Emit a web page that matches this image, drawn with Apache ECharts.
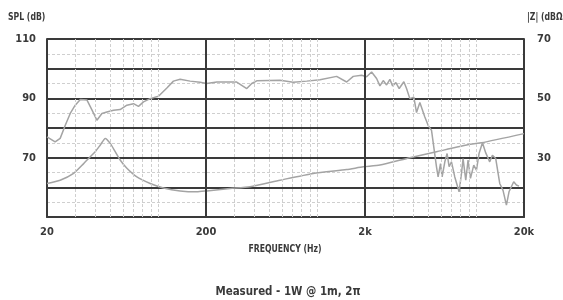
<!DOCTYPE html>
<html>
<head>
<meta charset="utf-8">
<script src="https://cdn.jsdelivr.net/npm/echarts@6/dist/echarts.min.js"></script>
<style>
html,body{margin:0;padding:0;background:#fff;}
#chart{width:563px;height:300px;}
</style>
</head>
<body>
<div id="chart"></div>
<script>
// ---- data ----
const splFreq = [20,22.5,24.2,26.1,28,30.1,32.4,35.7,38.4,41.2,44.3,47.6,52.4,57.7,63.6,70,75.2,80.9,89.1,100.5,113.5,124.8,137.5,158.9,183.6,202,234,312,361,388,417,584,708,860,1042,1326,1533,1687,1904,2047,2200,2366,2482,2604,2734,2868,2982,3128,3281,3511,3650,3829,4057,4218,4426,4758,4989,5241,5632,5765,5969,6110,6355,6568,6761,6998,7340,7812,8088,8276,8606,8896,9211,9661,10046,10430,10960,11494,12176,12662,13282,14074,14762,15504,16098,17232,17920,18606];
const splValues = [77,75.3,76.5,81,84.9,87.7,89.6,89.4,86,82.6,84.9,85.4,86,86.2,87.7,88.2,87.3,88.8,89.9,90.7,93.5,95.8,96.4,95.8,95.4,95,95.5,95.5,93.3,95,95.9,96.1,95.4,95.8,96.3,97.4,95.5,97.4,97.8,97.3,98.9,96.7,94.2,96,94.5,96.4,94.2,95.3,93.3,95.6,93.3,89.9,90.4,85.2,88.6,83.7,80.9,79.2,66.9,63.5,68,63.5,68.6,71.4,67,68.6,63.5,58.5,64.7,69.7,62.4,69.2,63,67.5,65.8,71.4,75,71.6,68.6,70.8,69.7,61.3,59,54,58.5,61.9,60.8,60.4];
const impFreq = [20,24.2,29.4,34,37.4,40.2,43.2,46.5,50,53.7,57.7,63.6,73.5,89.1,108,137.5,175,202,283,378,584,946,1533,1949,2482,3829,5632,9211,10800,20000];
const impValues = [21.3,22.4,24.7,28,30.3,32,34.2,36.5,34.8,32,29.2,26.4,23.5,21.3,19.8,18.8,18.5,18.8,19.6,20.2,22.4,24.7,26,26.9,27.5,30,32,34.5,35,38.1];
const xTickValues = [20,200,2000,20000];
const xTickLabels = ['20','200','2k','20k'];
const splTickLabels = [110,90,70];
const impTickLabels = [70,50,30];
const majorFreqLines = [200,2000];
const minorFreqLines = [30,40,50,60,70,80,90,100,300,400,500,600,700,800,900,1000,3000,4000,5000,6000,7000,8000,9000,10000];
const xTitle = 'FREQUENCY (Hz)';
const leftTitle = 'SPL (dB)';
const rightTitle = '|Z| (dBΩ)';
const footNote = 'Measured - 1W @ 1m, 2π';

// ---- chart ----
const FONT = "'DejaVu Sans Condensed','Liberation Sans Narrow',sans-serif";
const TXT = '#3a3a3a';
const chart = echarts.init(document.getElementById('chart'));
const toPairs = (xs, ys) => xs.map((x, i) => [x, ys[i]]);
const labelMap = {};
xTickValues.forEach((v, i) => labelMap[v] = xTickLabels[i]);

chart.setOption({
  animation: false,
  backgroundColor: '#fff',
  grid: {left: 47, right: 39, top: 39, bottom: 83, containLabel: false},
  xAxis: {
    type: 'log', logBase: 10, min: 20, max: 20000,
    axisLine: {show: true, onZero: false, lineStyle: {color: '#3a3a3a', width: 2}},
    axisTick: {show: false},
    splitLine: {show: false},
    axisLabel: {
      customValues: xTickValues,
      formatter: v => labelMap[Math.round(v)] || '',
      fontFamily: FONT, fontWeight: 'bold', fontSize: 11, color: TXT, margin: 10
    }
  },
  yAxis: [
    {
      type: 'value', min: 50, max: 110, interval: 10, position: 'left',
      axisLine: {show: true, lineStyle: {color: '#3a3a3a', width: 2}},
      axisTick: {show: false},
      axisLabel: {
        formatter: v => splTickLabels.includes(v) ? String(v) : '',
        fontFamily: FONT, fontWeight: 'bold', fontSize: 11, color: TXT, margin: 11
      },
      splitLine: {show: true, lineStyle: {color: '#3a3a3a', width: 2}},
      minorTick: {show: false, splitNumber: 2},
      minorSplitLine: {show: true, lineStyle: {color: '#cfcfcf', width: 1, type: [3, 2]}}
    },
    {
      type: 'value', min: 10, max: 70, interval: 10, position: 'right',
      axisLine: {show: true, lineStyle: {color: '#3a3a3a', width: 2}},
      axisTick: {show: false},
      axisLabel: {
        formatter: v => impTickLabels.includes(v) ? String(v) : '',
        fontFamily: FONT, fontWeight: 'bold', fontSize: 11, color: TXT, margin: 13
      },
      splitLine: {show: false}
    }
  ],
  series: [
    {
      type: 'line', data: [], silent: true,
      markLine: {
        silent: true, symbol: 'none', animation: false,
        label: {show: false},
        lineStyle: {color: '#cfcfcf', width: 1, type: [3, 2]},
        data: minorFreqLines.map(f => ({xAxis: f}))
      }
    },
    {
      type: 'line', data: [], silent: true,
      markLine: {
        silent: true, symbol: 'none', animation: false,
        label: {show: false},
        lineStyle: {color: '#3a3a3a', width: 2, type: 'solid'},
        data: majorFreqLines.map(f => ({xAxis: f}))
      }
    },
    {
      name: 'SPL', type: 'line', yAxisIndex: 0, showSymbol: false,
      data: toPairs(splFreq, splValues),
      lineStyle: {color: '#a4a4a4', width: 1.5}, itemStyle: {color: '#a4a4a4'}
    },
    {
      name: '|Z|', type: 'line', yAxisIndex: 1, showSymbol: false, smooth: 0.2,
      data: toPairs(impFreq, impValues),
      lineStyle: {color: '#a4a4a4', width: 1.5}, itemStyle: {color: '#a4a4a4'}
    }
  ],
  graphic: [
    {type: 'text', x: 8, y: 12, scaleX: 0.86, style: {text: leftTitle, font: "bold 10px " + FONT, fill: TXT}},
    {type: 'text', x: 527, y: 12, scaleX: 0.86, style: {text: rightTitle, font: "bold 10px " + FONT, fill: TXT}},
    {type: 'text', x: 285, y: 249, scaleX: 0.86, style: {text: xTitle, font: "bold 10px " + FONT, fill: TXT, align: 'center', verticalAlign: 'middle'}},
    {type: 'text', x: 288, y: 292, scaleX: 0.88, style: {text: footNote, font: "bold 13px " + FONT, fill: TXT, align: 'center', verticalAlign: 'middle'}}
  ]
});
</script>
</body>
</html>
